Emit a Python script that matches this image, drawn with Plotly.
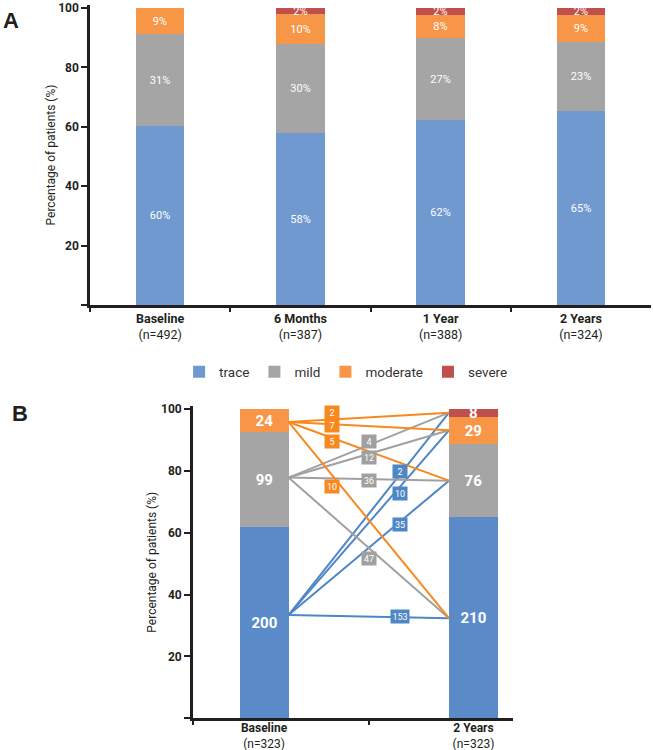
import plotly.graph_objects as go

FONT = "Roboto, Arial, sans-serif"
DARK = "#231f20"

# ---------------- Panel A data ----------------
stages_a = ["Baseline", "6 Months", "1 Year", "2 Years"]
n_a = [492, 387, 388, 324]
trace_a = [60.4, 57.9, 62.4, 65.2]
mild_a = [31.0, 30.1, 27.4, 23.4]
moderate_a = [8.6, 9.9, 7.8, 9.0]
severe_a = [0.0, 2.1, 2.4, 2.4]
trace_a_lbl = ["60%", "58%", "62%", "65%"]
mild_a_lbl = ["31%", "30%", "27%", "23%"]
moderate_a_lbl = ["9%", "10%", "8%", "9%"]
severe_a_lbl = ["", "2%", "2%", "2%"]

# ---------------- Panel B data ----------------
stages_b = ["Baseline", "2 Years"]
n_b = [323, 323]
trace_b = [200, 210]
mild_b = [99, 76]
moderate_b = [24, 29]
severe_b = [0, 8]

# transitions baseline -> 2 years (from, to, count)
flow_from = ["moderate", "moderate", "moderate", "moderate",
             "mild", "mild", "mild", "mild",
             "trace", "trace", "trace", "trace"]
flow_to = ["severe", "moderate", "mild", "trace",
           "severe", "moderate", "mild", "trace",
           "severe", "moderate", "mild", "trace"]
flow_n = [2, 7, 5, 10, 4, 12, 36, 47, 2, 10, 35, 153]
# level (% of patients) at which each count label sits
flow_label_level = [98.9, 94.7, 89.7, 75.1,
                    89.7, 84.3, 76.9, 51.8,
                    80.0, 72.6, 62.8, 32.9]

# line anchor levels (% of patients)
start_level = {"trace": 33.4, "mild": 77.9, "moderate": 95.9}
end_level = {"trace": 32.4, "mild": 76.9, "moderate": 93.2, "severe": 98.9}

severities = ["trace", "mild", "moderate", "severe"]
colors_a = {"trace": "#7099d0", "mild": "#a5a5a5", "moderate": "#f79646", "severe": "#c0504d"}
colors_b = {"trace": "#5a8bc8", "mild": "#a5a5a5", "moderate": "#f79646", "severe": "#c0504d"}
flow_colors = {"trace": "#4f86c6", "mild": "#a0a0a0", "moderate": "#f7891f"}
label_frac = {"moderate": 0.268, "mild": 0.5, "trace": 0.694}

fig = go.Figure()

# ---- Panel A bars ----
vals_a = {"trace": trace_a, "mild": mild_a, "moderate": moderate_a, "severe": severe_a}
lbls_a = {"trace": trace_a_lbl, "mild": mild_a_lbl, "moderate": moderate_a_lbl, "severe": severe_a_lbl}
xa = list(range(len(stages_a)))
for s in severities:
    fig.add_trace(go.Bar(
        x=xa, y=vals_a[s], name=s, width=0.346,
        marker=dict(color=colors_a[s], line=dict(width=0)),
        text=lbls_a[s], textposition="inside", insidetextanchor="middle",
        textangle=0, constraintext="none",
        textfont=dict(color="white", size=11, family=FONT),
        xaxis="x", yaxis="y", hoverinfo="skip",
    ))
fig.add_trace(go.Scatter(x=[None], y=[None], xaxis="x3", yaxis="y",
                         showlegend=False, hoverinfo="skip"))

# ---- Panel B bars ----
cnt_b = {"trace": trace_b, "mild": mild_b, "moderate": moderate_b, "severe": severe_b}
xb = list(range(len(stages_b)))
bw = 0.234
for s in severities:
    pct = [c / n * 100 for c, n in zip(cnt_b[s], n_b)]
    fig.add_trace(go.Bar(
        x=xb, y=pct, name=s, width=bw, showlegend=False,
        marker=dict(color=colors_b[s], line=dict(width=0)),
        text=[str(c) if c else "" for c in cnt_b[s]],
        textposition="inside", insidetextanchor="middle",
        textangle=0, constraintext="none",
        textfont=dict(color="white", size=15, family=FONT),
        texttemplate="<b>%{text}</b>",
        xaxis="x2", yaxis="y2", hoverinfo="skip",
    ))
fig.add_trace(go.Scatter(x=[None], y=[None], xaxis="x4", yaxis="y2",
                         showlegend=False, hoverinfo="skip"))

# ---- flow lines ----
x0, x1 = xb[0] + bw / 2, xb[1] - bw / 2
annots = []
for group in ["trace", "mild", "moderate"]:
    for f, t, n, ly in zip(flow_from, flow_to, flow_n, flow_label_level):
        if f != group:
            continue
        fig.add_trace(go.Scatter(
            x=[x0, x1], y=[start_level[f], end_level[t]], mode="lines",
            line=dict(color=flow_colors[f], width=2),
            xaxis="x2", yaxis="y2", showlegend=False, hoverinfo="skip",
        ))
        annots.append(dict(
            x=x0 + label_frac[f] * (x1 - x0), y=ly, xref="x2", yref="y2",
            text=str(n), showarrow=False,
            font=dict(color="white", size=9, family=FONT),
            bgcolor=flow_colors[f], width=12 if len(str(n)) < 3 else 16,
            height=11, borderpad=1,
        ))

annots.append(dict(x=0.0176, y=0.9733, xref="paper", yref="paper", text="<b>A</b>",
                   xanchor="center", yanchor="middle", showarrow=False,
                   font=dict(size=22, color=DARK, family="Liberation Sans, Arial")))
annots.append(dict(x=0.0306, y=0.4487, xref="paper", yref="paper", text="<b>B</b>",
                   xanchor="center", yanchor="middle", showarrow=False,
                   font=dict(size=22, color=DARK, family="Liberation Sans, Arial")))

axis_line = dict(showline=True, linewidth=2.5, linecolor=DARK, showgrid=False,
                 zeroline=False, automargin=False)
yticks = [0, 20, 40, 60, 80, 100]
ytext = ["", "20", "40", "60", "80", "100"]
tick_only = dict(ticks="outside", ticklen=6, tickwidth=2, tickcolor=DARK,
                 showticklabels=False, showline=False, showgrid=False,
                 zeroline=False, automargin=False)

fig.update_layout(
    width=653, height=750, margin=dict(l=0, r=0, t=0, b=0, autoexpand=False),
    paper_bgcolor="white", plot_bgcolor="white",
    barmode="stack", bargap=0,
    font=dict(family=FONT, color=DARK),
    annotations=annots,
    legend=dict(orientation="h", x=0.53, xanchor="center", y=0.504, yanchor="middle",
                font=dict(size=13.5, color="#333333", family=FONT),
                traceorder="normal", itemwidth=30),
    xaxis=dict(domain=[0.1378, 0.997], anchor="y", range=[-0.5, 3.5],
               tickmode="array", tickvals=xa,
               ticktext=[f"<b>{s}</b><br>(n={n})" for s, n in zip(stages_a, n_a)],
               ticks="", tickfont=dict(size=12.5, color=DARK), **axis_line),
    xaxis3=dict(overlaying="x", anchor="y", range=[-0.5, 3.5],
                tickmode="array", tickvals=[-0.5, 0.5, 1.5, 2.5], **tick_only),
    yaxis=dict(domain=[0.5933, 0.9933], anchor="x", range=[0, 101],
               tickmode="array", tickvals=yticks, ticktext=ytext,
               ticks="outside", ticklen=6, tickwidth=2, tickcolor=DARK,
               tickfont=dict(size=12, color=DARK, weight="bold"),
               title=dict(text="Percentage of patients (%)", font=dict(size=12, color=DARK), standoff=0),
               **axis_line),
    xaxis2=dict(domain=[0.2953, 0.786], anchor="y2", range=[-0.34, 1.19],
                tickmode="array", tickvals=xb,
                ticktext=[f"<b>{s}</b><br>(n={n})" for s, n in zip(stages_b, n_b)],
                ticks="", ticklabelstandoff=-3,
                tickfont=dict(size=12, color=DARK), **axis_line),
    xaxis4=dict(overlaying="x2", anchor="y2", range=[-0.34, 1.19],
                tickmode="array", tickvals=[-0.34, 0.5], **tick_only),
    yaxis2=dict(domain=[0.0423, 0.4584], anchor="x2", range=[0, 101],
                tickmode="array", tickvals=yticks, ticktext=ytext,
                ticks="outside", ticklen=6, tickwidth=2, tickcolor=DARK,
                tickfont=dict(size=12, color=DARK, weight="bold"),
                title=dict(text="Percentage of patients (%)", font=dict(size=12, color=DARK), standoff=2),
                **axis_line),
)

fig.write_html("out.html", config={"displayModeBar": False},
               post_script="document.body.style.margin='0';")
